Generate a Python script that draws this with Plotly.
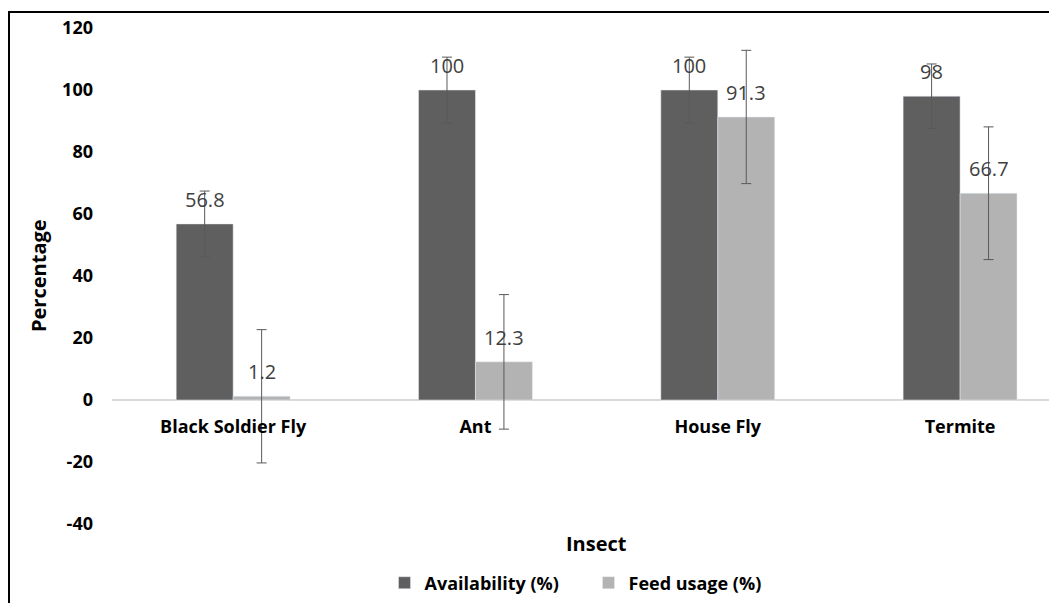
import plotly.graph_objects as go

categories = ["Black Soldier Fly", "Ant", "House Fly", "Termite"]
availability = [56.8, 100, 100, 98]
feed_usage = [1.2, 12.3, 91.3, 66.7]
availability_err = [10.6, 10.6, 10.6, 10.4]
feed_usage_err = [21.5, 21.7, 21.5, 21.4]
y_ticks = [-40, -20, 0, 20, 40, 60, 80, 100, 120]
y_tick_labels = ["-40", "-20", "0", "20", "40", "60", "80", "100", "120"]

# page body has an 8px margin, so the figure is sized/offset to compensate
OFF = 8
W, H = 1057 - OFF, 603 - OFF
ML, MR, MT, MB = 112 - OFF, 0, 28 - OFF, 79
plot_w = W - ML - MR
plot_h = H - MT - MB
x_range = [-0.5, 3.4]
bargap = 0.53
px_per_cat = plot_w / (x_range[1] - x_range[0])
bar_px = px_per_cat * (1 - bargap) / 2


def px_x(page_x):
    return (page_x - OFF - ML) / plot_w


def px_y(page_y):
    return (MT + plot_h - (page_y - OFF)) / plot_h


FONT = "Open Sans"
DARK = "#5f5f5f"
LIGHT = "#b3b3b3"

fig = go.Figure()
fig.add_trace(go.Bar(
    name="Availability (%)", x=categories, y=availability, marker_color=DARK,
    error_y=dict(type="data", array=availability_err, color="#595959", thickness=1, width=5),
))
fig.add_trace(go.Bar(
    name="Feed usage (%)", x=categories, y=feed_usage, marker_color=LIGHT,
    error_y=dict(type="data", array=feed_usage_err, color="#595959", thickness=1, width=5),
))

annotations = []
for series, shift in ((availability, -bar_px / 2), (feed_usage, bar_px / 2)):
    for c, v in zip(categories, series):
        annotations.append(dict(
            x=c, y=v, xref="x", yref="y", text=f"{v:g}", showarrow=False,
            xshift=shift, yshift=9, yanchor="bottom",
            font=dict(family=FONT, size=20, color="#404040"),
        ))

annotations.append(dict(
    text="Insect", x=px_x(596), y=px_y(543),
    xref="paper", yref="paper", showarrow=False, xanchor="center", yanchor="middle",
    font=dict(family=FONT, size=20, color="#000000", weight="bold"),
))
annotations.append(dict(
    text="Percentage", x=px_x(38), y=0.5, textangle=-90,
    xref="paper", yref="paper", showarrow=False, xanchor="center", yanchor="middle",
    font=dict(family=FONT, size=20, color="#000000", weight="bold"),
))

y_min, y_max = -40, 120
zero_pos = (0 - y_min) / (y_max - y_min)

fig.update_layout(
    width=W, height=H,
    margin=dict(l=ML, r=MR, t=MT, b=MB, autoexpand=False),
    paper_bgcolor="white", plot_bgcolor="white",
    barmode="group", bargap=bargap, bargroupgap=0,
    font=dict(family=FONT, color="#000000"),
    xaxis=dict(
        range=x_range, anchor="free", position=zero_pos,
        showgrid=False, showline=False, zeroline=False, ticks="",
        ticklabelstandoff=14,
        tickfont=dict(family=FONT, size=18, color="#000000", weight="bold"),
    ),
    yaxis=dict(
        range=[y_min, y_max], tickvals=y_ticks, ticktext=y_tick_labels,
        showgrid=False, showline=False,
        zeroline=True, zerolinecolor="#d9d9d9", zerolinewidth=1.5,
        ticks="", ticklabelstandoff=18,
        tickfont=dict(family=FONT, size=18, color="#000000", weight="bold"),
    ),
    legend=dict(
        orientation="h", x=0.5 + 4 / plot_w, xanchor="center",
        y=px_y(583), yanchor="middle",
        font=dict(family=FONT, size=18, color="#000000", weight="bold"),
        itemwidth=30, entrywidth=159,
    ),
    annotations=annotations,
    shapes=[dict(
        type="rect", xref="paper", yref="paper",
        x0=px_x(9), x1=1.2,
        y0=-0.5, y1=px_y(12),
        line=dict(color="#000000", width=2), fillcolor="rgba(0,0,0,0)",
    )],
)

fig.write_html("out.html")
